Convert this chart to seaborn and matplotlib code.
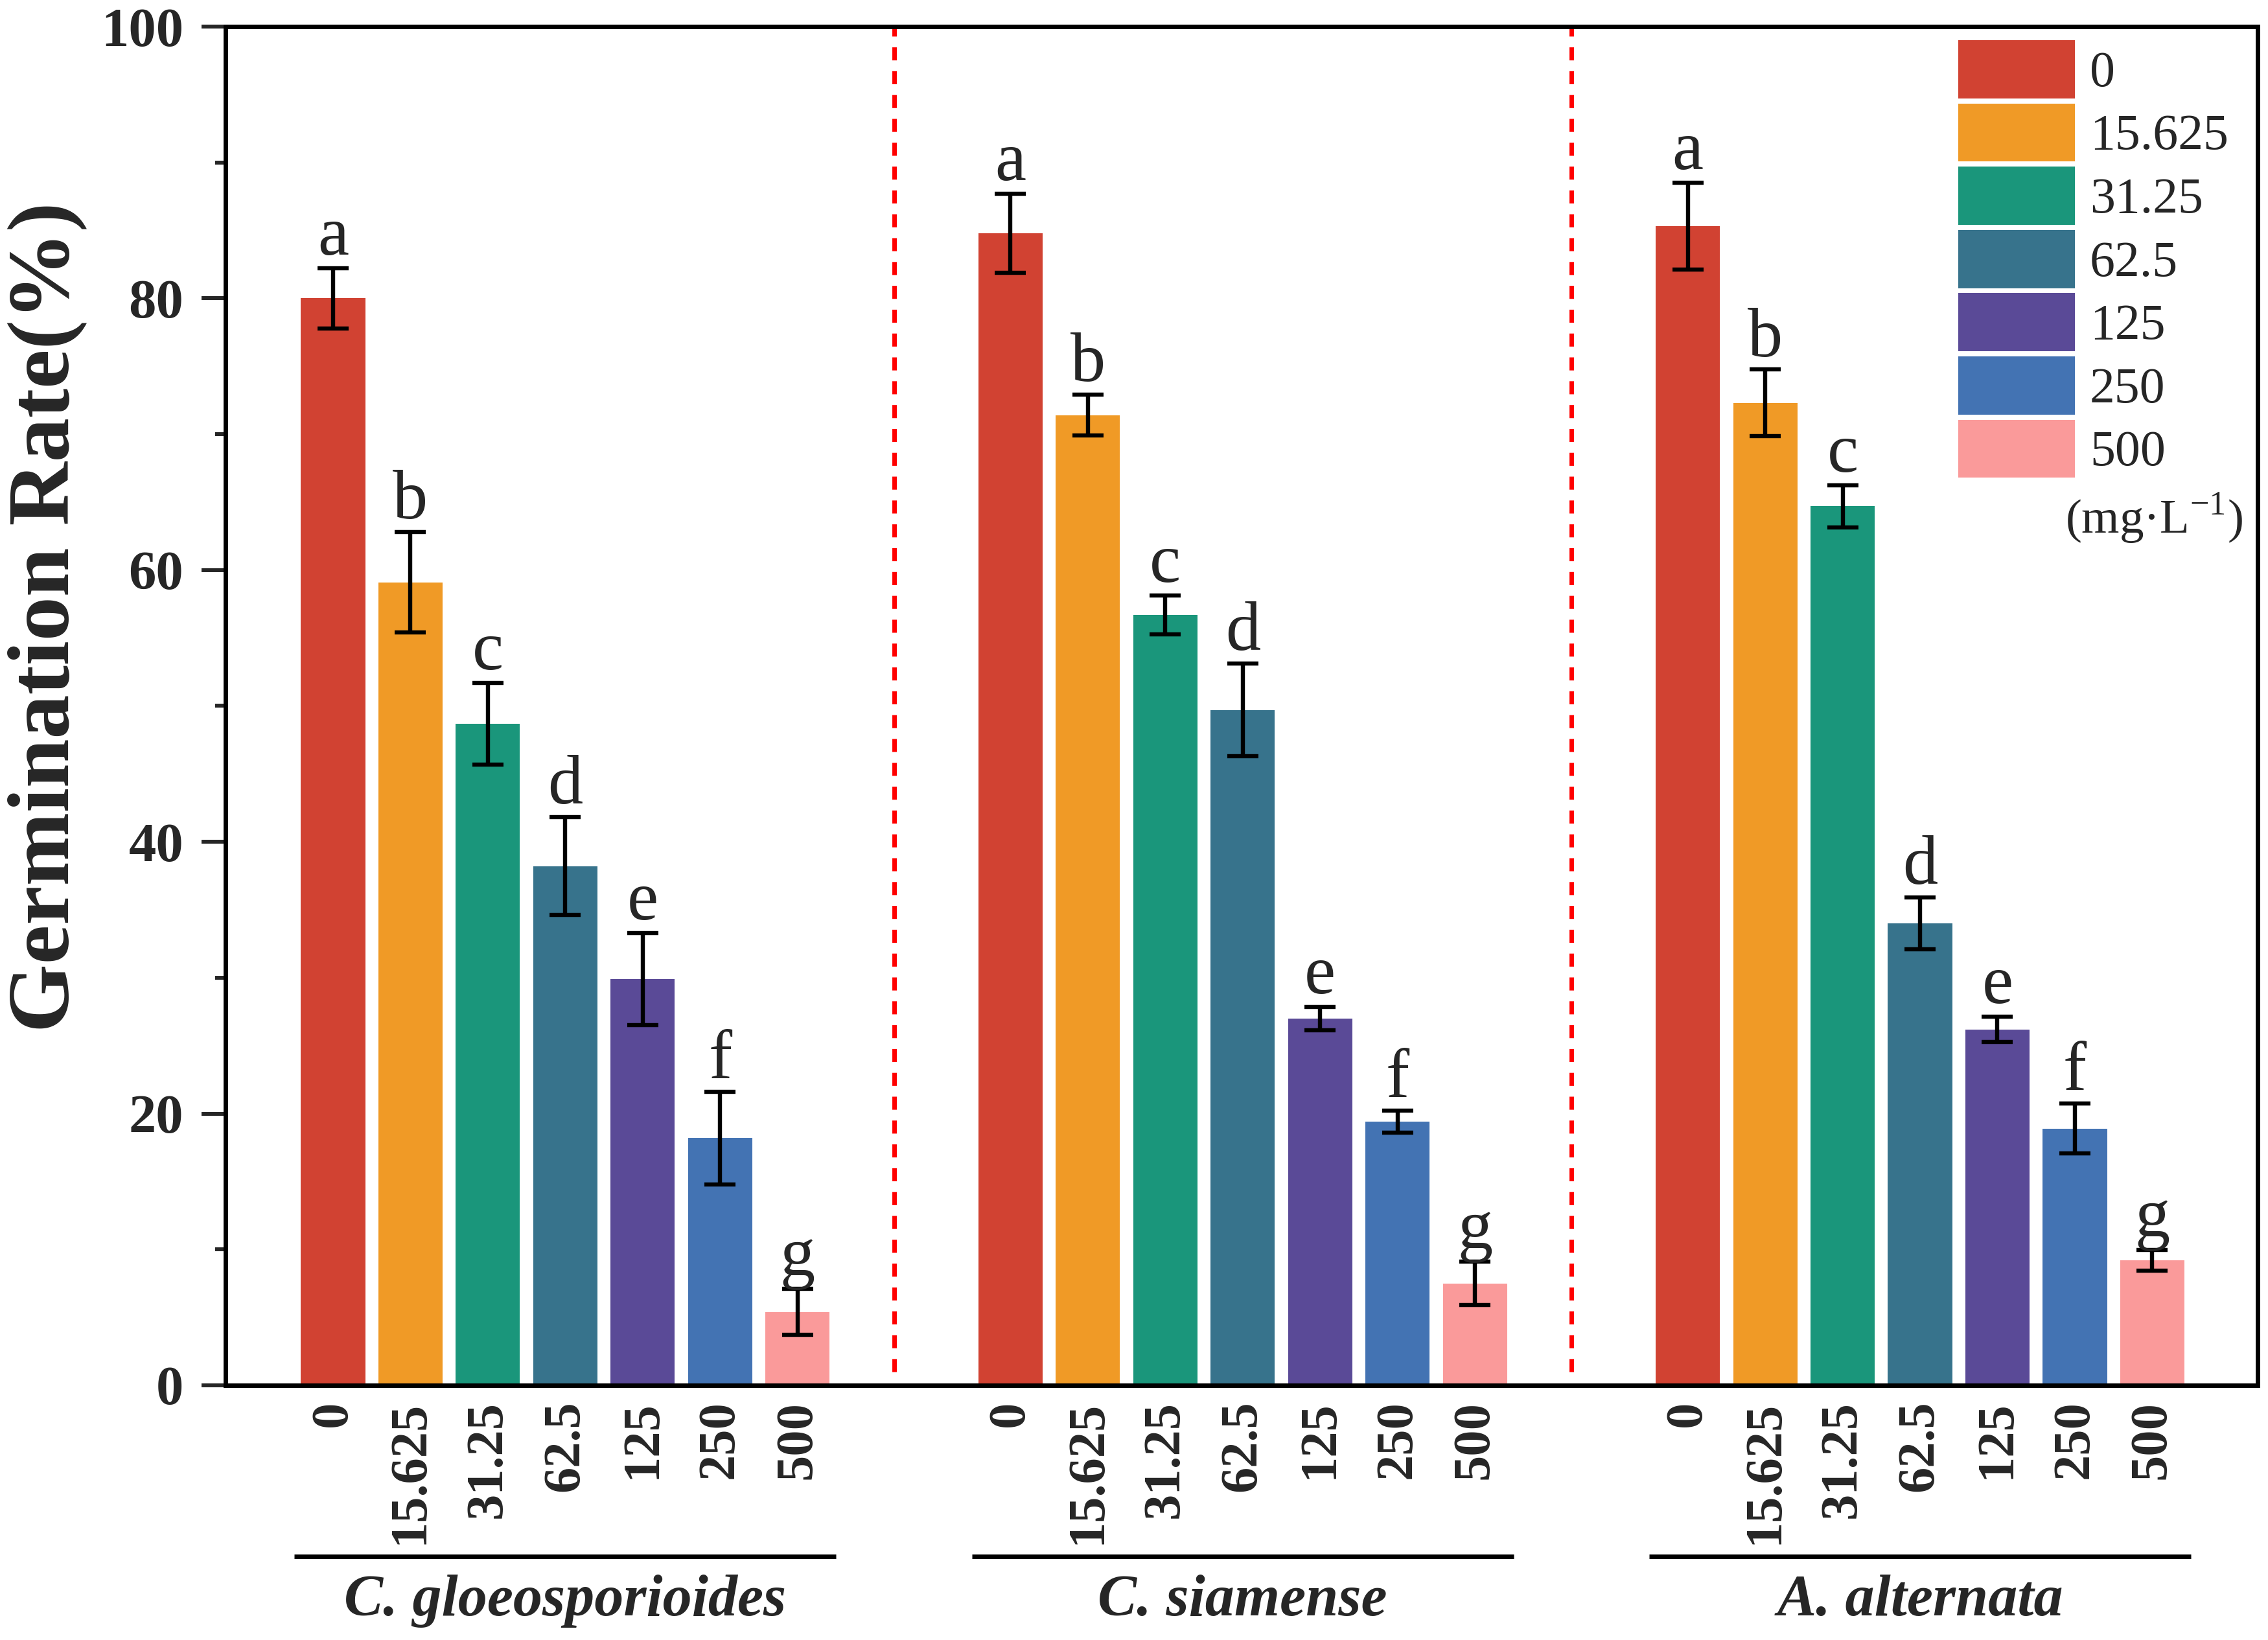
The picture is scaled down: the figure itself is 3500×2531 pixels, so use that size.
import numpy as np
import pandas as pd
import matplotlib
matplotlib.use('Agg')
import matplotlib.pyplot as plt
import matplotlib.transforms as mtransforms
from matplotlib.patches import Patch
from matplotlib.ticker import MultipleLocator
import seaborn as sns

# --- data ---
species = ['C. gloeosporioides', 'C. siamense', 'A. alternata']
concentrations = ['0', '15.625', '31.25', '62.5', '125', '250', '500']
colors = ['#D14232', '#F09A26', '#1A967B', '#37738C', '#5A4A97', '#4373B3', '#FA9A9A']
letters = ['a', 'b', 'c', 'd', 'e', 'f', 'g']

cg_rate = [80.0, 59.1, 48.7, 38.2, 29.9, 18.2, 5.4]
cg_sd = [2.2, 3.7, 3.0, 3.6, 3.4, 3.4, 1.7]
cs_rate = [84.8, 71.4, 56.7, 49.7, 27.0, 19.4, 7.5]
cs_sd = [2.9, 1.5, 1.45, 3.4, 0.85, 0.8, 1.6]
aa_rate = [85.3, 72.3, 64.7, 34.0, 26.2, 18.9, 9.2]
aa_sd = [3.2, 2.45, 1.55, 1.9, 0.95, 1.85, 0.75]

sns.set_style('ticks')
plt.rcParams['font.family'] = ['Liberation Serif', 'DejaVu Serif']
plt.rcParams['mathtext.fontset'] = 'custom'
plt.rcParams['mathtext.rm'] = 'Liberation Serif'

# bar positions: groups separated by a wider gap
group_step = len(concentrations) + 1.75
rows = []
for g, (name, rates, sds) in enumerate(zip(species, [cg_rate, cs_rate, aa_rate], [cg_sd, cs_sd, aa_sd])):
    for i, conc in enumerate(concentrations):
        rows.append({'species': name, 'conc': conc, 'rate': rates[i], 'sd': sds[i],
                     'letter': letters[i], 'pos': g * group_step + i})
df = pd.DataFrame(rows)

fig = plt.figure(figsize=(35, 25.31), dpi=100)
ax = fig.add_axes([0.0994, 0.1553, 0.896, 0.8285])

sns.barplot(data=df, x='pos', y='rate', hue='conc', hue_order=concentrations,
            palette=colors, saturation=1, native_scale=True, dodge=False, width=0.83,
            errorbar=None, linewidth=0, legend=False, ax=ax)

ax.errorbar(df['pos'], df['rate'], yerr=df['sd'], fmt='none', ecolor='black',
            elinewidth=4.6, capsize=17, capthick=4.6, zorder=3)

# significance letters
for _, r in df.iterrows():
    ax.text(r['pos'], r['rate'] + r['sd'] + 1.0, r['letter'], ha='center', va='baseline',
            fontsize=78)

# red dashed separators between species
for g in range(len(species) - 1):
    ax.axvline(g * group_step + len(concentrations) - 1 + 1.25, ymin=0.01, ymax=1,
               color='#FF0000', lw=5, linestyle=(0, (2.9, 2.4)))

ax.set_xlim(-1.39, 24.86)
ax.set_ylim(0, 100)
ax.yaxis.set_major_locator(MultipleLocator(20))
ax.yaxis.set_minor_locator(MultipleLocator(10))
ax.set_xticks(df['pos'])
ax.set_xticklabels(df['conc'], rotation=90, fontsize=58, fontweight='bold')
ax.tick_params(axis='x', length=0, pad=17)
ax.tick_params(axis='y', which='major', length=26.6, width=4.3, direction='out',
               labelsize=61, pad=20, right=False)
ax.tick_params(axis='y', which='minor', length=11.5, width=4.3, direction='out', right=False)
for label in ax.get_yticklabels():
    label.set_fontweight('bold')
for s in ax.spines.values():
    s.set_visible(True)
    s.set_linewidth(5)
    s.set_color('black')
ax.set_xlabel('')
ax.set_ylabel('')

fig.text(0.0211, 0.6239, 'Germination Rate(%)', rotation=90, ha='center', va='center',
         fontsize=98, fontweight='bold')

# species brackets below the tick labels
trans = mtransforms.blended_transform_factory(ax.transData, ax.transAxes)
for g, name in enumerate(species):
    start = g * group_step
    ax.plot([start - 0.5, start + len(concentrations) - 0.5], [-0.126, -0.126], transform=trans,
            color='black', lw=5, clip_on=False, solid_capstyle='butt')
    ax.text(start + (len(concentrations) - 1) / 2, -0.159, name, transform=trans,
            ha='center', va='center', fontsize=65, fontweight='bold', fontstyle='italic')

handles = [Patch(facecolor=c, edgecolor='none', label=l) for c, l in zip(colors, concentrations)]
ax.legend(handles=handles, loc='upper left', bbox_to_anchor=(0.8527, 0.990), frameon=False,
          fontsize=56, handlelength=2.31, handleheight=1.40, labelspacing=0.1,
          handletextpad=0.3, borderpad=0, borderaxespad=0)
ax.text(0.949, 0.638, '(mg·L$^{-1}$)', transform=ax.transAxes, ha='center', va='center',
        fontsize=54)

fig.savefig('out.png', dpi=100)
